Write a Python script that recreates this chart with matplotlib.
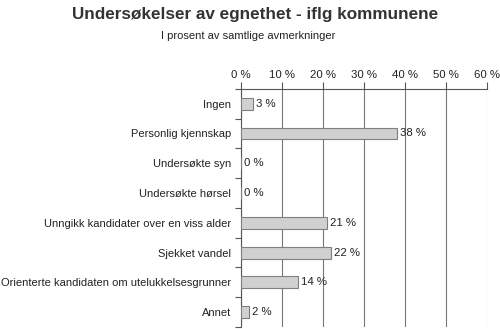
import matplotlib.pyplot as plt
import numpy as np

plt.rcParams["font.family"] = ["Liberation Sans", "DejaVu Sans"]

categories = [
    "Ingen",
    "Personlig kjennskap",
    "Undersøkte syn",
    "Undersøkte hørsel",
    "Unngikk kandidater over en viss alder",
    "Sjekket vandel",
    "Orienterte kandidaten om utelukkelsesgrunner",
    "Annet",
]
values = [3, 38, 0, 0, 21, 22, 14, 2]
ticks = [0, 10, 20, 30, 40, 50, 60]
tick_labels = [f"{t} %" for t in ticks]

fig = plt.figure(figsize=(5.0, 3.29), dpi=100)
ax = fig.add_axes([0.482, 0.006, 0.492, 0.724])

y = np.arange(len(categories))
ax.barh(y, values, height=0.4, color="#d0d0d0", edgecolor="#7f7f7f", linewidth=0.8, zorder=3)
for yi, v in zip(y, values):
    ax.text(v + 0.7, yi, f"{v} %", va="center", ha="left", fontsize=8.2, color="#222222", zorder=4)

ax.set_xlim(0, 60)
ax.set_ylim(len(categories) - 0.5, -0.5)
ax.set_xticks(ticks)
ax.set_xticklabels(tick_labels, fontsize=8.2, color="#222222")
ax.xaxis.tick_top()
ax.tick_params(axis="x", direction="out", length=5, color="#555555", width=0.8, pad=1)
ax.set_yticks(y)
ax.set_yticklabels(categories, fontsize=8, color="#222222")
ax.set_yticks(np.arange(-0.5, len(categories), 1.0), minor=True)
ax.tick_params(axis="y", which="major", length=0, pad=7)
ax.tick_params(axis="y", which="minor", direction="out", length=4, color="#555555", width=0.8)

ax.grid(axis="x", color="#777777", linewidth=0.8, zorder=0)
for s in ["right", "bottom"]:
    ax.spines[s].set_visible(False)
ax.spines["left"].set_color("#555555")
ax.spines["top"].set_color("#555555")
ax.spines["left"].set_linewidth(0.8)
ax.spines["top"].set_linewidth(0.8)

fig.text(0.51, 0.955, "Undersøkelser av egnethet - iflg kommunene", ha="center", va="center",
         fontsize=12.3, fontweight="bold", color="#333333")
fig.text(0.496, 0.89, "I prosent av samtlige avmerkninger", ha="center", va="center",
         fontsize=8, color="#222222")

fig.savefig("out.png", dpi=100)
